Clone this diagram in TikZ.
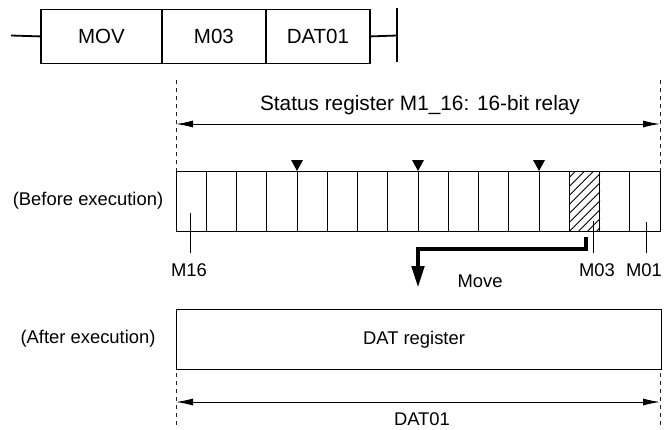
\documentclass[tikz,border=0pt]{standalone}
\usepackage{fontspec}
\setmainfont{Liberation Sans}
\usetikzlibrary{arrows.meta}
\begin{document}
\begin{tikzpicture}[x=1pt,y=-1pt,
  lad/.style={draw, line width=1.8pt, minimum height=54pt, inner sep=0pt,
    font=\fontsize{20.5}{24}\selectfont, anchor=north west},
  lbl/.style={font=\fontsize{18.4}{22}\selectfont, inner sep=0pt},
  big/.style={font=\fontsize{20.8}{24}\selectfont, inner sep=0pt},
  dim/.style={draw=black!85, line width=0.8pt, dash pattern=on 4pt off 4pt},
  dimarrow/.style={line width=1pt, {Latex[length=17pt,width=7pt]}-{Latex[length=17pt,width=7pt]}},
  thinl/.style={line width=1pt},
  movearrow/.style={line width=4.5pt, -{Triangle[length=22pt,width=12pt]}}]
\useasboundingbox (0,0) rectangle (664,429);

% ladder instruction
\node[lad, minimum width=121pt] (mov) at (40,8.5) {MOV};
\node[lad, minimum width=104pt] (m03) at (161,8.5) {M03};
\node[lad, minimum width=104pt] (dat) at (265,8.5) {DAT01};
\coordinate (lin) at (11,35.5);
\coordinate (rb) at (397,35.5);
\coordinate (rbt) at (397,8);
\coordinate (rbb) at (397,62);
\draw[line width=1.8pt] (lin) -- (mov.west);
\draw[line width=1.8pt] (dat.east) -- (rb);
\draw[line width=1.8pt] (rbt) -- (rbb);

% status register dimension
\coordinate (dl1) at (176,80);
\coordinate (dl2) at (176,171);
\coordinate (dr1) at (660,80);
\coordinate (dr2) at (660,171);
\draw[dim] (dl1) -- (dl2);
\draw[dim] (dr1) -- (dr2);
\coordinate (sl) at (176,124);
\coordinate (sr) at (660,124);
\draw[dimarrow] (sl) -- (sr);
\node[big] (stat) at (420,105) {Status register M1\_16: 16-bit relay};

% register
\begin{scope}
  \clip (569.75,171) rectangle (600,231);
  \foreach \c in {-63,-54,...,36}
    \draw[thinl] (569.75+\c,231) -- ++(75,-75);
\end{scope}
\node[draw, thinl, minimum width=484pt, minimum height=60pt, anchor=north west, inner sep=0pt] (reg) at (176,171) {};
\foreach \i in {1,...,15}
  \draw[thinl] (176+\i*30.25,171) -- (176+\i*30.25,231);
\foreach \x in {297,418,539}
  \fill (\x-6,160) -- (\x+6,160) -- (\x,171) -- cycle;

\node[lbl] (before) at (88,201) {(Before execution)};

% bit labels
\node[lbl, anchor=north] (m16) at (189,263.5) {M16};
\node[lbl, anchor=north] (m03l) at (597,263.5) {M03};
\node[lbl, anchor=north] (m01) at (644,263.5) {M01};
\coordinate (t16) at (190,213);
\coordinate (t03) at (593,221);
\coordinate (t01) at (646,222);
\draw[thinl] (t16) -- (190,253);
\draw[thinl] (t03) -- (593,253);
\draw[thinl] (t01) -- (646,253);

% move arrow
\coordinate (mv0) at (586,237);
\coordinate (mvk1) at (586,249);
\coordinate (mvk2) at (418,249);
\coordinate (mv1) at (418,288);
\draw[movearrow] (mv0) -- (mvk1) -- (mvk2) -- (mv1);
\node[lbl] (move) at (480,281) {Move};

% DAT register
\node[lbl] (after) at (88,339) {(After execution)};
\node[draw, thinl, minimum width=485pt, minimum height=60pt, anchor=north west, inner sep=0pt] (datreg) at (176,309) {};
\node[lbl] (datlbl) at (414,340) {DAT register};

\coordinate (bl1) at (176,373);
\coordinate (bl2) at (176,429);
\coordinate (br1) at (660,373);
\coordinate (br2) at (660,429);
\draw[dim] (bl1) -- (bl2);
\draw[dim] (br1) -- (br2);
\coordinate (bal) at (176,402);
\coordinate (bar) at (660,402);
\draw[dimarrow] (bal) -- (bar);
\node[lbl] (dat01) at (422,419) {DAT01};
\end{tikzpicture}
\end{document}
